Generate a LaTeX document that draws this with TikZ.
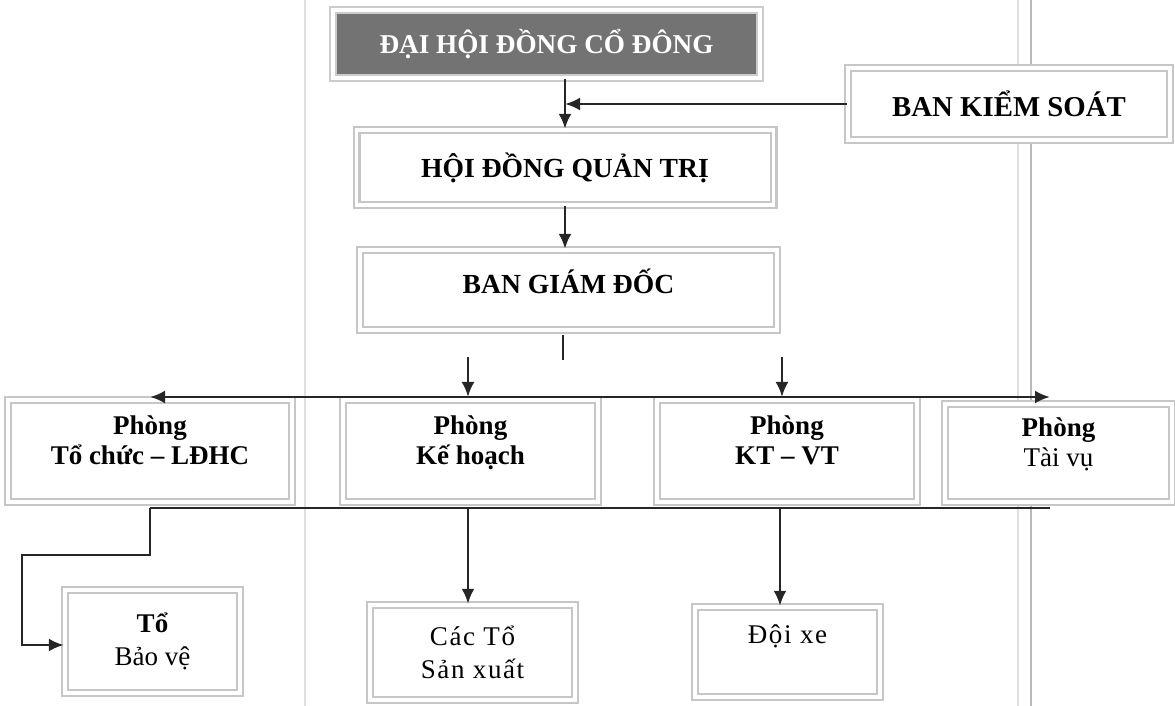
\documentclass[tikz,border=0pt]{standalone}
\usepackage{fontspec}
\setmainfont{Liberation Serif}
\usetikzlibrary{arrows.meta,positioning,calc}
\begin{document}
\begin{tikzpicture}[x=0.5pt,y=-0.5pt,
  box/.style={draw=gray!45, line width=1.2pt, double=white, double distance=1.6pt,
    fill=white, align=center, inner sep=2pt, font=\fontsize{13.5}{15}\selectfont\bfseries},
  topbox/.style={box, fill=black!55, draw=gray!40, text=white, font=\fontsize{13.6}{16}\selectfont\bfseries},
  conn/.style={line width=1.3pt, draw=black!85},
  arr/.style={conn, -{Latex[length=7.5pt,width=6.5pt]}},
  arrboth/.style={conn, {Latex[length=7.5pt,width=6.5pt]}-{Latex[length=7.5pt,width=6.5pt]}},
  scan/.style={line width=0.6pt, draw=gray!25}
]
\useasboundingbox (0,0) rectangle (1175,706);
\fill[white] (0,0) rectangle (1175,706);
% scan artefacts
\draw[scan] (305,0) -- (305,706);
\draw[scan] (1018,0) -- (1018,706);
\draw[scan, draw=gray!55, line width=1pt] (1031,0) -- (1031,706);

% nodes
\node[topbox, minimum width=213.5pt, minimum height=34pt] (dh) at (546.5,44) {ĐẠI HỘI ĐỒNG CỔ ĐÔNG};
\node[box, minimum width=161pt, minimum height=36pt, font=\fontsize{14.4}{16}\selectfont\bfseries] (bks) at (1009,104) {BAN KIỂM SOÁT};
\node[box, minimum width=208.5pt, minimum height=37.5pt, font=\fontsize{13.8}{16}\selectfont\bfseries] (hdqt) at (565,167.5) {HỘI ĐỒNG QUẢN TRỊ};
\node[box, minimum width=208.5pt, minimum height=40pt, font=\fontsize{13.8}{16}\selectfont\bfseries] (bgd) at (568.5,290) {BAN GIÁM ĐỐC\\[-7pt]\mbox{}};

\node[box, minimum width=142pt, minimum height=51pt] (tc) at (150,451) {Phòng\\Tổ chức – LĐHC\\[-4pt]\mbox{}};
\node[box, minimum width=127.5pt, minimum height=51pt] (kh) at (470.5,451) {Phòng\\Kế hoạch\\[-4pt]\mbox{}};
\node[box, minimum width=130pt, minimum height=51pt] (kt) at (787,451) {Phòng\\KT – VT\\[-4pt]\mbox{}};
\node[box, minimum width=113.5pt, minimum height=49pt] (tv) at (1058.5,453) {Phòng\\{\mdseries Tài vụ}\\[-4pt]\mbox{}};

\node[box, minimum width=87.5pt, minimum height=51.5pt, font=\fontsize{13.5}{16.5}\selectfont\bfseries] (bv) at (152.5,641.5) {Tổ\\{\mdseries Bảo vệ}};
\node[box, minimum width=102.5pt, minimum height=47.5pt, font=\fontsize{13.5}{16.5}\selectfont\addfontfeatures{LetterSpace=6}] (sx) at (472.5,652.5) {Các Tổ\\Sản xuất};
\node[box, minimum width=92.5pt, minimum height=45pt, font=\fontsize{13.5}{16}\selectfont\addfontfeatures{LetterSpace=6}] (dx) at (787.5,652) {Đội xe\\[2pt]\mbox{}};

% coordinates
\coordinate (bL) at (150,397);
\coordinate (bR) at (1050,397);
\coordinate (dL) at (150,508);
\coordinate (dR) at (1050,508);
\coordinate (g1) at (563,335);
\coordinate (g2) at (563,360);
\coordinate (a1) at (468,357);
\coordinate (a2) at (782,357);
\coordinate (k1) at (150,555);
\coordinate (k2) at (22,555);
\coordinate (k3) at (22,645);
\coordinate (s1) at (468,508);
\coordinate (x1) at (780,508);

% connectors
\draw[arr] (dh.south -| hdqt.north) -- (hdqt.north);
\draw[arr] (bks.west) -- (bks.west -| hdqt.north);
\draw[arr] (hdqt.south) -- (hdqt.south |- bgd.north);
\draw[conn] (g1) -- (g2);
\draw[arrboth] (bL) -- (bR);
\draw[arr] (a1) -- (a1 |- bL);
\draw[arr] (a2) -- (a2 |- bL);
\draw[conn] (dL) -- (dR);
\draw[arr] (dL) -- (k1) -- (k2) -- (k3) -- (k3 -| bv.west);
\draw[arr] (s1) -- (s1 |- sx.north);
\draw[arr] (x1) -- (x1 |- dx.north);
\end{tikzpicture}
\end{document}
